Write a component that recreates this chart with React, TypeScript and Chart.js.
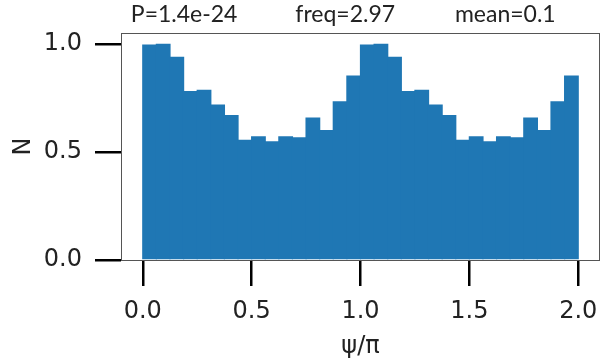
import React, { useEffect, useRef } from "react";
import { Chart, registerables } from "chart.js";

Chart.register(...registerables);

// Histogram of psi/pi, 32 bins between 0 and 2
const binStart = 0;
const binEnd = 2;
const counts = [
  0.994, 0.998, 0.937, 0.779, 0.785, 0.717, 0.668, 0.553,
  0.570, 0.547, 0.570, 0.565, 0.656, 0.598, 0.731, 0.851,
  0.994, 0.998, 0.937, 0.779, 0.785, 0.717, 0.668, 0.553,
  0.570, 0.547, 0.570, 0.565, 0.656, 0.598, 0.731, 0.851,
];
const xTicks = [0, 0.5, 1.0, 1.5, 2.0];
const yTicks = [0, 0.5, 1.0];
const annotationTexts = ["P=1.4e-24", "freq=2.97", "mean=0.1"];
const annotationX = [0.19, 0.93, 1.665];
const xLabel = "ψ/π";
const yLabel = "N";

const barColor = "#1f77b4";
const tickFont = { family: "'DejaVu Sans', sans-serif", size: 24 };

export default function App() {
  const ref = useRef<HTMLCanvasElement | null>(null);

  useEffect(() => {
    document.body.style.margin = "0";
    const canvas = ref.current;
    if (!canvas) return;
    const binWidth = (binEnd - binStart) / counts.length;
    const data = counts.map((v, i) => ({ x: binStart + binWidth * (i + 0.5), y: v }));

    const framePlugin = {
      id: "frame",
      afterDatasetsDraw(chart: any) {
        const { ctx, chartArea } = chart;
        ctx.save();
        ctx.strokeStyle = "#555555";
        ctx.lineWidth = 1;
        ctx.strokeRect(
          Math.round(chartArea.left) + 0.5,
          Math.round(chartArea.top) + 0.5,
          Math.round(chartArea.right - chartArea.left) - 1,
          Math.round(chartArea.bottom - chartArea.top)
        );
        ctx.restore();
      },
      afterDraw(chart: any) {
        const { ctx } = chart;
        const xs = chart.scales.x;
        ctx.save();
        ctx.font = "23px Lato";
        ctx.fillStyle = "#222222";
        ctx.textAlign = "center";
        ctx.textBaseline = "middle";
        annotationTexts.forEach((t, i) => {
          ctx.fillText(t, xs.getPixelForValue(annotationX[i]), 15);
        });
        ctx.restore();
      },
    };

    const chart = new Chart(canvas, {
      type: "bar",
      data: {
        datasets: [
          {
            data,
            backgroundColor: barColor,
            borderWidth: 0,
            barPercentage: 1,
            categoryPercentage: 1,
            inflateAmount: 0.6,
          } as any,
        ],
      },
      options: {
        animation: false,
        responsive: false,
        layout: { padding: { top: 33, right: 13, left: 0, bottom: 0 } },
        plugins: { legend: { display: false }, tooltip: { enabled: false } },
        scales: {
          x: {
            type: "linear",
            min: -0.1,
            max: 2.1,
            offset: false,
            afterBuildTicks: (s: any) => {
              s.ticks = xTicks.map((v) => ({ value: v }));
            },
            afterFit: (s: any) => {
              s.height = 101;
            },
            ticks: {
              font: tickFont,
              color: "#222222",
              padding: 11,
              maxRotation: 0,
              autoSkip: false,
              callback: (v: any) => Number(v).toFixed(1),
            },
            grid: {
              offset: false,
              drawOnChartArea: false,
              drawTicks: true,
              tickLength: 26,
              color: "#000000",
              lineWidth: 2.5,
            },
            border: { display: false },
            title: {
              display: true,
              text: xLabel,
              font: tickFont,
              color: "#222222",
              padding: { top: 0, bottom: 0 },
            },
          },
          y: {
            type: "linear",
            min: 0,
            max: 1.05,
            afterBuildTicks: (s: any) => {
              s.ticks = yTicks.map((v) => ({ value: v }));
            },
            afterFit: (s: any) => {
              s.width = 121;
            },
            ticks: {
              font: tickFont,
              color: "#222222",
              padding: 13,
              autoSkip: false,
              callback: (v: any) => Number(v).toFixed(1),
            },
            grid: {
              drawOnChartArea: false,
              drawTicks: true,
              tickLength: 26,
              color: "#000000",
              lineWidth: 2.5,
            },
            border: { display: false },
            title: {
              display: true,
              text: yLabel,
              font: tickFont,
              color: "#222222",
              padding: { top: 9, bottom: 0 },
            },
          },
        },
      },
      plugins: [framePlugin],
    });

    return () => chart.destroy();
  }, []);

  return <canvas ref={ref} width={613} height={361} style={{ display: "block" }} />;
}
